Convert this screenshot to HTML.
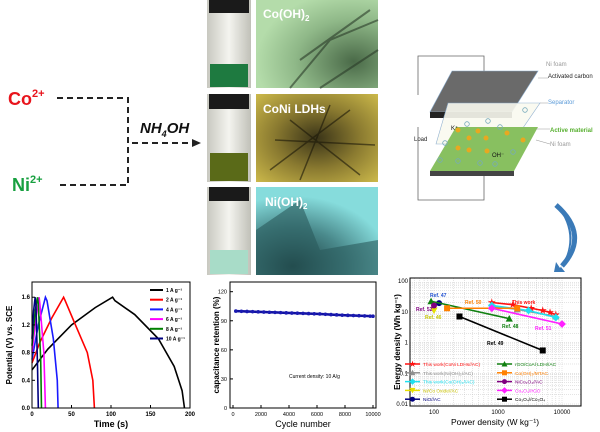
<!DOCTYPE html>
<html><head><meta charset="utf-8"><style>
html,body{margin:0;padding:0;background:#fff;}
svg{display:block;font-family:"Liberation Sans",sans-serif;}
</style></head><body>
<svg id="fig" width="600" height="432" viewBox="0 0 600 432">
<defs>
<linearGradient id="vialg" x1="0" x2="1"><stop offset="0" stop-color="#c8c8c0"/><stop offset="0.5" stop-color="#f4f4ef"/><stop offset="1" stop-color="#c0c0b8"/></linearGradient>
<radialGradient id="tem1" cx="0.8" cy="0.7" r="0.8"><stop offset="0" stop-color="#4a6a48"/><stop offset="0.6" stop-color="#8fb888"/><stop offset="1" stop-color="#b4dcaa"/></radialGradient>
<radialGradient id="tem2" cx="0.5" cy="0.5" r="0.7"><stop offset="0" stop-color="#3a3418"/><stop offset="0.5" stop-color="#8a7a30"/><stop offset="1" stop-color="#cbb84a"/></radialGradient>
<radialGradient id="tem3" cx="0.3" cy="0.9" r="0.8"><stop offset="0" stop-color="#1a3a3c"/><stop offset="0.55" stop-color="#4a8a8c"/><stop offset="1" stop-color="#86dcdc"/></radialGradient>
</defs>

<!-- precursors -->
<g>
<text x="8" y="105" font-size="18" font-weight="bold" fill="#e8141c">Co<tspan font-size="11" dy="-8">2+</tspan></text>
<text x="12" y="191" font-size="18" font-weight="bold" fill="#18a040">Ni<tspan font-size="11" dy="-8">2+</tspan></text>
<path d="M57 98 H128 V185 H57" fill="none" stroke="#222" stroke-width="2" stroke-dasharray="6,4"/>
<path d="M132 143 H194" fill="none" stroke="#222" stroke-width="2" stroke-dasharray="6,4"/>
<path d="M192 139 L201 143 L192 147 Z" fill="#222"/>
<text x="140" y="133" font-size="15" font-weight="bold" font-style="italic" fill="#111">NH<tspan font-size="9" dy="4">4</tspan><tspan dy="-4">OH</tspan></text>
</g>

<!-- vials -->
<g>
<rect x="207" y="0" width="44" height="88" fill="url(#vialg)"/><rect x="209" y="0" width="40" height="13" fill="#1a1a1a"/><rect x="210" y="64" width="38" height="23" fill="#1e7a40"/>
<rect x="207" y="94" width="44" height="88" fill="url(#vialg)"/><rect x="209" y="94" width="40" height="15" fill="#1a1a1a"/><rect x="210" y="153" width="38" height="28" fill="#5a6a18"/>
<rect x="207" y="187" width="44" height="88" fill="url(#vialg)"/><rect x="209" y="187" width="40" height="14" fill="#1a1a1a"/><rect x="210" y="250" width="38" height="24" fill="#a8dcc8"/>
</g>
<!-- TEM -->
<g>
<rect x="256" y="0" width="122" height="88" fill="url(#tem1)"/>
<path d="M290 88 L330 40 L378 20 M300 60 L370 10 M320 88 L378 50" stroke="#2a3a28" stroke-width="2" fill="none" opacity="0.6"/>
<text x="263" y="18" font-size="12" font-weight="bold" fill="#fff">Co(OH)<tspan font-size="8" dy="3">2</tspan></text>
<rect x="256" y="94" width="122" height="88" fill="url(#tem2)"/>
<path d="M270 170 L350 110 M290 120 L360 175 M300 180 L330 105 M275 140 L375 145" stroke="#1a1808" stroke-width="1.5" fill="none" opacity="0.6"/>
<text x="263" y="113" font-size="12" font-weight="bold" fill="#fff">CoNi LDHs</text>
<rect x="256" y="187" width="122" height="88" fill="url(#tem3)"/>
<path d="M256 230 L300 200 L320 250 L378 240 L378 275 L256 275 Z" fill="#2a5a5c" opacity="0.6"/>
<text x="265" y="206" font-size="12" font-weight="bold" fill="#fff">Ni(OH)<tspan font-size="8" dy="3">2</tspan></text>
</g>

<!-- device schematic -->
<g font-size="6">
<path d="M418 95 V56 H484 V90 M418 127 V200 H484 V175" fill="none" stroke="#666" stroke-width="0.8"/>
<path d="M452 71 H538 L512 112 H430 Z" fill="#6a6a6a" stroke="#88aacc" stroke-width="0.6"/>
<path d="M430 112 H512 V118 H430 Z" fill="#222"/>
<path d="M448 103 H540 L512 144 H436 Z" fill="#fafaf0" stroke="#88aacc" stroke-width="0.6" opacity="0.9"/>
<path d="M456 127 H538 L514 171 H430 Z" fill="#88c060"/>
<path d="M430 171 H514 V176 H430 Z" fill="#444"/>
<g fill="#e8a820"><circle cx="458" cy="130" r="2.5"/><circle cx="469" cy="138" r="2.5"/><circle cx="478" cy="131" r="2.5"/><circle cx="486" cy="138" r="2.5"/><circle cx="507" cy="133" r="2.5"/><circle cx="458" cy="148" r="2.5"/><circle cx="469" cy="150" r="2.5"/><circle cx="487" cy="151" r="2.5"/><circle cx="523" cy="140" r="2.5"/></g>
<g fill="none" stroke="#7ab" stroke-width="0.8"><circle cx="467" cy="124" r="2.3"/><circle cx="488" cy="121" r="2.3"/><circle cx="500" cy="127" r="2.3"/><circle cx="445" cy="143" r="2.3"/><circle cx="440" cy="160" r="2.3"/><circle cx="458" cy="161" r="2.3"/><circle cx="480" cy="163" r="2.3"/><circle cx="495" cy="164" r="2.3"/><circle cx="513" cy="152" r="2.3"/><circle cx="525" cy="110" r="2.3"/></g>
<text x="414" y="141" fill="#222">Load</text>
<text x="451" y="130" fill="#111">K⁺</text><text x="492" y="157" fill="#111">OH⁻</text>
<text x="546" y="66" fill="#999">Ni foam</text>
<text x="548" y="78" fill="#222">Activated carbon</text>
<text x="548" y="104" fill="#5a9ad8">Separator</text>
<text x="550" y="132" fill="#58b030" font-weight="bold">Active material</text>
<text x="550" y="146" fill="#999">Ni foam</text>
<path d="M538 78 H548 M540 103 H548 M536 129 H550 M536 140 L550 144" stroke="#999" stroke-width="0.6"/>
</g>
<path d="M556 205 Q585 235 560 268 L556 262 L554 272 L565 272 L561 267 Q580 235 556 205 Z" fill="#3a7ab8"/>
<path d="M556 205 Q590 235 562 266" fill="none" stroke="#3a7ab8" stroke-width="5"/>

<g id="gcd"></g>
<g id="cyc"></g>
<g id="rag"></g>
</svg>
<script>
const NS='http://www.w3.org/2000/svg';
function mk(p,tag,at,txt){const e=document.createElementNS(NS,tag);for(const k in at)e.setAttribute(k,at[k]);if(txt!==undefined)e.textContent=txt;p.appendChild(e);return e;}

// ---------- GCD chart data ----------
const gcdLabels=['1 A g⁻¹','2 A g⁻¹','4 A g⁻¹','6 A g⁻¹','8 A g⁻¹','10 A g⁻¹'];
const gcdColors=['#000','#f00','#1a1aff','#ff00ff','#008000','#000080'];
const gcd1=[[0,0.55],[20,0.85],[50,1.2],[80,1.45],[102,1.6],[105,1.55],[130,1.35],[160,1.0],[180,0.6],[190,0.25],[193,0]];
const gcd2=[[0,0.65],[10,0.95],[25,1.3],[40,1.6],[42,1.55],[55,1.2],[70,0.8],[77,0.4],[79,0]];
const gcd4=[[0,0.7],[8,1.2],[17,1.6],[19,1.55],[27,1.0],[32,0.4],[33,0]];
const gcd6=[[0,0.8],[5,1.3],[9,1.6],[10,1.5],[15,0.8],[17,0]];
const gcd8=[[0,0.9],[4,1.4],[7,1.6],[8,1.5],[11,0.7],[12,0]];
const gcd10=[[0,1.0],[2,1.4],[4,1.6],[5,1.5],[7,0.6],[8,0]];
const gcdSeries=[gcd1,gcd2,gcd4,gcd6,gcd8,gcd10];
const gcdXTicks=[0,50,100,150,200];
const gcdYTicks=[0.0,0.4,0.8,1.2,1.6];

// ---------- cycling data ----------
const cycN=[200,600,1000,1400,1800,2200,2600,3000,3400,3800,4200,4600,5000,5400,5800,6200,6600,7000,7400,7800,8200,8600,9000,9400,9800,10000];
const cycR=[100,99.8,99.6,99.4,99.2,99,98.8,98.6,98.4,98.2,98,97.8,97.6,97.4,97.2,97,96.7,96.4,96.1,95.8,95.6,95.4,95.2,95,94.8,94.7];
const cycXTicks=[0,2000,4000,6000,8000,10000];
const cycYTicks=[0,30,60,90,120];

// ---------- Ragone data ----------
const ragNames=['This work(CoNi LDHs//AC)','This work(Ni(OH)₂//AC)','This work(Co(OH)₂//AC)','Ni/Co Oxide//AC','NiO//AC','rGO/CoAl LDH//AC','Co(OH)₂/MTAC','NiCo₂O₄//AC','Co₃O₄//rGO','Co₃O₄//Co₃O₄'];
const ragColors=['#ff1010','#909090','#20e0f0','#e8e000','#000080','#108010','#ff8000','#800080','#ff20ff','#000'];
const ragMarkers=['star','tri','dia','tril','circ','tri','sq','circ','dia','sq'];
const ragP=[[800,1700,3300,5000,6500,8000],[800,2000,8000],[800,3000,8000],[100],[120],[90,1500],[160,2000],[100],[800,10000],[250,5000]];
const ragE=[[20,17,13,11,9.5,8],[15,12,7],[16,11,6.5],[11],[19],[22,6],[13,13],[16],[13,4],[7,0.55]];
const ragXTicks=[100,1000,10000];
const ragYTicks=[0.01,0.1,1,10,100];

// ---------- GCD draw ----------
(function(){
 const g=document.getElementById('gcd');
 const X0=32,X1=190,Y0=408,Y1=282;
 const xs=v=>X0+v/200*(X1-X0), ys=v=>Y0-v/1.82*(Y0-Y1);
 gcdSeries.forEach((s,i)=>{const p=mk(g,'polyline',{points:s.map(d=>xs(d[0])+','+ys(d[1])).join(' '),fill:'none',stroke:gcdColors[i],'stroke-width':1.6});
   });
 const fr=mk(g,'rect',{x:X0,y:Y1,width:X1-X0,height:Y0-Y1,fill:'none',stroke:'#000','stroke-width':1});
  
 gcdXTicks.forEach(t=>{mk(g,'line',{x1:xs(t),x2:xs(t),y1:Y0,y2:Y0-3,stroke:'#000'});const e=mk(g,'text',{x:xs(t),y:Y0+8,'font-size':6,'text-anchor':'middle','font-weight':'bold'},t);});
 gcdYTicks.forEach(t=>{mk(g,'line',{x1:X0,x2:X0+3,y1:ys(t),y2:ys(t),stroke:'#000'});const e=mk(g,'text',{x:X0-2,y:ys(t)+2,'font-size':6,'text-anchor':'end','font-weight':'bold'},t.toFixed(1));});
 let e=mk(g,'text',{x:111,y:427,'font-size':9,'text-anchor':'middle','font-weight':'bold'},'Time (s)');
 e=mk(g,'text',{x:12,y:345,'font-size':8,'text-anchor':'middle','font-weight':'bold',transform:'rotate(-90 12 345)'},'Potential (V) vs. SCE');
 gcdLabels.forEach((l,i)=>{const y=290+i*9.7;mk(g,'line',{x1:150,x2:163,y1:y,y2:y,stroke:gcdColors[i],'stroke-width':2});const t=mk(g,'text',{x:166,y:y+2,'font-size':5,'font-weight':'bold'},l);});
})();

// ---------- cycling draw ----------
(function(){
 const g=document.getElementById('cyc');
 const X0=230,X1=376,Y0=408,Y1=282;
 const xs=v=>233+v/10000*140, ys=v=>Y0-v/130*(Y0-Y1);
 const fr=mk(g,'rect',{x:X0,y:Y1,width:X1-X0,height:Y0-Y1,fill:'none',stroke:'#000','stroke-width':1});
  
 mk(g,'polyline',{points:cycN.map((n,i)=>xs(n)+','+ys(cycR[i])).join(' '),fill:'none',stroke:'#1010a0','stroke-width':2.5});
 cycN.forEach((n,i)=>{const c=mk(g,'circle',{cx:xs(n),cy:ys(cycR[i]),r:1.8,fill:'#1a1ab0'});});
 cycXTicks.forEach(t=>{mk(g,'line',{x1:xs(t),x2:xs(t),y1:Y0,y2:Y0-3,stroke:'#000'});const e=mk(g,'text',{x:xs(t),y:Y0+8,'font-size':5.5,'text-anchor':'middle'},t);});
 cycYTicks.forEach(t=>{mk(g,'line',{x1:X0,x2:X0+3,y1:ys(t),y2:ys(t),stroke:'#000'});const e=mk(g,'text',{x:X0-3,y:ys(t)+2,'font-size':5.5,'text-anchor':'end'},t);});
 let e=mk(g,'text',{x:303,y:427,'font-size':9,'text-anchor':'middle'},'Cycle number');
 e=mk(g,'text',{x:219,y:345,'font-size':8,'text-anchor':'middle','font-weight':'bold',transform:'rotate(-90 219 345)'},'capacitance retention (%)');
 e=mk(g,'text',{x:289,y:378,'font-size':5},'Current density: 10 A/g');
})();

// ---------- Ragone draw ----------
(function(){
 const g=document.getElementById('rag');
 const X0=410,X1=581,Y0=406,Y1=278;
 const xs=v=>434+(Math.log10(v)-2)*64, ys=v=>404-(Math.log10(v)+2)*30.75;
 const grid=mk(g,'g',{stroke:'#bbb','stroke-width':0.4,'stroke-dasharray':'1,1'});
 for(let d=1;d<=4;d++)for(let m=1;m<10;m++){const v=Math.pow(10,d)*m;if(xs(v)>X0&&xs(v)<X1)mk(grid,'line',{x1:xs(v),x2:xs(v),y1:Y1,y2:Y0});}
 for(let d=-2;d<=1;d++)for(let m=1;m<10;m++){const v=Math.pow(10,d)*m;mk(grid,'line',{x1:X0,x2:X1,y1:ys(v),y2:ys(v)});}
 function marker(p,type,x,y,c,r){
  let e;
  if(type==='circ')e=mk(p,'circle',{cx:x,cy:y,r:r,fill:c});
  else if(type==='sq')e=mk(p,'rect',{x:x-r,y:y-r,width:2*r,height:2*r,fill:c});
  else if(type==='tri')e=mk(p,'polygon',{points:`${x},${y-r*1.2} ${x-r*1.2},${y+r} ${x+r*1.2},${y+r}`,fill:c});
  else if(type==='tril')e=mk(p,'polygon',{points:`${x-r*1.2},${y-r} ${x+r*1.2},${y-r} ${x},${y+r*1.2}`,fill:c});
  else if(type==='dia')e=mk(p,'polygon',{points:`${x},${y-r*1.3} ${x+r*1.3},${y} ${x},${y+r*1.3} ${x-r*1.3},${y}`,fill:c});
  else {let pts=[];for(let k=0;k<10;k++){const a=-Math.PI/2+k*Math.PI/5,rr=k%2?r*0.5:r*1.4;pts.push((x+rr*Math.cos(a))+','+(y+rr*Math.sin(a)));}e=mk(p,'polygon',{points:pts.join(' '),fill:c});}
  return e;
 }
 ragP.forEach((ps,i)=>{
  const s=mk(g,'g',{});
   
  if(ps.length>1)mk(s,'polyline',{points:ps.map((p,j)=>xs(p)+','+ys(ragE[i][j])).join(' '),fill:'none',stroke:ragColors[i],'stroke-width':1.6});
  ps.forEach((p,j)=>{const m=marker(s,ragMarkers[i],xs(p),ys(ragE[i][j]),ragColors[i],3);});
 });
 const fr=mk(g,'rect',{x:X0,y:Y1,width:X1-X0,height:Y0-Y1,fill:'none',stroke:'#000','stroke-width':1});
  
 ragXTicks.forEach(t=>{const e=mk(g,'text',{x:xs(t),y:Y0+8,'font-size':6,'text-anchor':'middle'},t);});
 ragYTicks.forEach(t=>{const e=mk(g,'text',{x:X0-2,y:ys(t)+2,'font-size':6,'text-anchor':'end'},t);});
 let e=mk(g,'text',{x:495,y:425,'font-size':8.5,'text-anchor':'middle'},'Power density (W kg⁻¹)');
 e=mk(g,'text',{x:400,y:342,'font-size':8,'text-anchor':'middle','font-weight':'bold',transform:'rotate(-90 400 342)'},'Energy density (Wh kg⁻¹)');
 const refs=[['Ref. 47',430,297,'#2050d0'],['Ref. 50',465,304,'#ff8000'],['This work',512,304,'#ff1010'],['Ref. 52',416,311,'#800080'],['Ref. 46',425,319,'#c8c800'],['Ref. 48',502,328,'#108010'],['Ref. 51',535,330,'#ff20ff'],['Ref. 49',487,345,'#000']];
 refs.forEach(r=>{const t=mk(g,'text',{x:r[1],y:r[2],'font-size':5,fill:r[3],'font-weight':'bold'},r[0]);});
 ragNames.forEach((n,i)=>{const col=i<5?0:1,row=i%5;const x=col?497:405,y=364+row*8.8;
  mk(g,'line',{x1:x,x2:x+15,y1:y,y2:y,stroke:ragColors[i],'stroke-width':1.5});
  marker(g,ragMarkers[i],x+7.5,y,ragColors[i],2.5);
  const t=mk(g,'text',{x:x+18,y:y+2,'font-size':4.8,fill:ragColors[i]==='#e8e000'?'#c8c000':ragColors[i]},n);
   });
})();
</script>
</body></html>
